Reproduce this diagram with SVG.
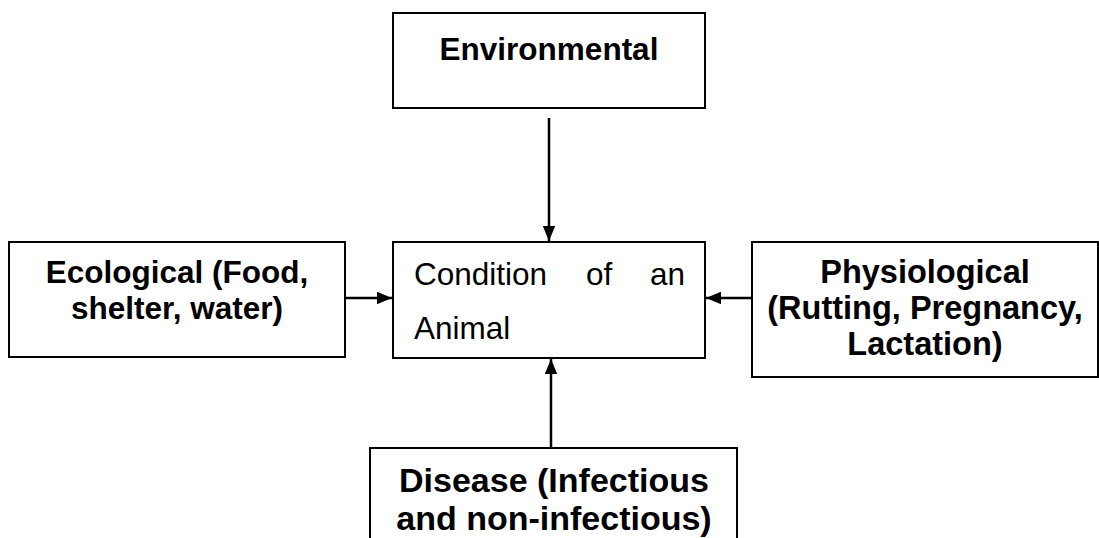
<svg xmlns="http://www.w3.org/2000/svg" width="1099" height="538" viewBox="0 0 1099 538">
<defs>
<style>
.box{fill:#fff;stroke:#000;stroke-width:2}
.b{font-family:"Liberation Sans",Arial,sans-serif;font-weight:bold;font-size:31.5px;fill:#000;text-anchor:middle}
.r{font-family:"Liberation Sans",Arial,sans-serif;font-size:31.5px;fill:#000}
.edge{stroke:#000;stroke-width:2.5;fill:none;marker-end:url(#ah)}
</style>
<marker id="ah" viewBox="0 0 10 10" refX="10" refY="5" markerWidth="6" markerHeight="5" markerUnits="strokeWidth" orient="auto" preserveAspectRatio="none">
<path d="M0,0 L10,5 L0,10 z" fill="#000"/>
</marker>
</defs>
<rect width="1099" height="538" fill="#fff"/>
<g id="environmental">
<rect class="box" x="393" y="13" width="312" height="95"/>
<text class="b" x="549" y="60">Environmental</text>
</g>
<g id="condition">
<rect class="box" x="393" y="242" width="312" height="116"/>
<text class="r" x="414" y="285">Condition</text>
<text class="r" x="586" y="285">of</text>
<text class="r" x="650" y="285">an</text>
<text class="r" x="414" y="339">Animal</text>
</g>
<g id="ecological">
<rect class="box" x="9" y="242" width="336" height="115"/>
<text class="b" x="177" y="283">Ecological (Food,</text>
<text class="b" x="177" y="319">shelter, water)</text>
</g>
<g id="physiological">
<rect class="box" x="752" y="242" width="346" height="135"/>
<text class="b" x="925" y="283" style="font-size:32.5px">Physiological</text>
<text class="b" x="925" y="319" style="font-size:32.5px">(Rutting, Pregnancy,</text>
<text class="b" x="925" y="355" style="font-size:32.5px">Lactation)</text>
</g>
<g id="disease">
<rect class="box" x="370" y="448" width="367" height="100"/>
<text class="b" x="554" y="492" style="font-size:34px">Disease (Infectious</text>
<text class="b" x="554" y="530" style="font-size:34px">and non-infectious)</text>
</g>
<g id="connectors">
<path class="edge" d="M549,118 L549,241"/>
<path class="edge" d="M345,298 L392,298"/>
<path class="edge" d="M752,298 L706,298"/>
<path class="edge" d="M551,448 L551,359"/>
</g>
</svg>
